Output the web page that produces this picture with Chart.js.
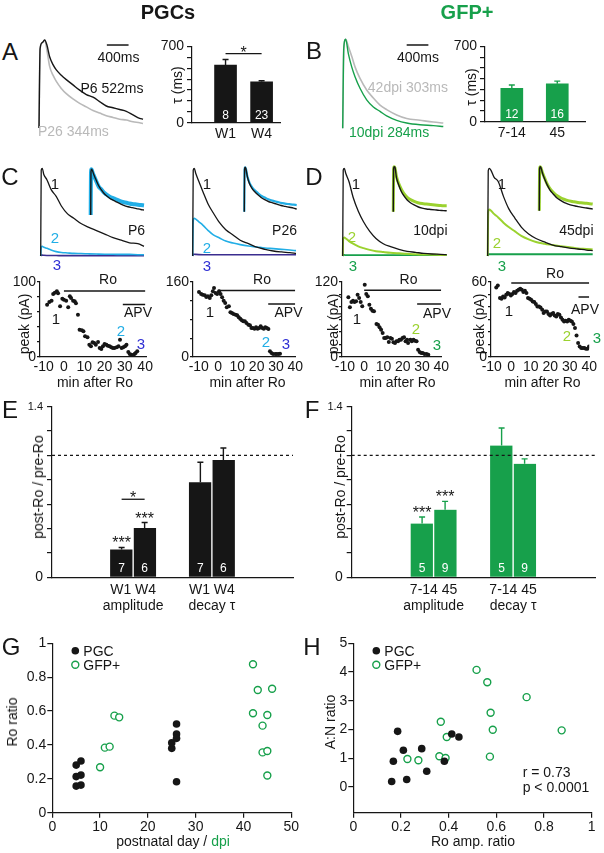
<!DOCTYPE html>
<html>
<head>
<meta charset="utf-8">
<title>PGCs vs GFP+ : Ro sensitivity</title>
<script src="https://cdn.jsdelivr.net/npm/chart.js@4.4.1/dist/chart.umd.min.js"></script>
<style>
  html, body { margin: 0; padding: 0; background: #fff; }
  body { position: relative; width: 604px; height: 853px; overflow: hidden;
         font-family: "Liberation Sans", Arial, Helvetica, sans-serif; color: #111; }
  canvas { position: absolute; }
  .t { position: absolute; white-space: nowrap; line-height: 1; }
</style>
</head>
<body>
<script>
// ---- A / B : normalised EPSC decays (ms, fraction of peak) ----
var tA = [0, 20, 61, 104, 147, 196, 258, 319, 411, 503, 626, 749, 872, 995, 1117, 1240, 1363, 1486, 1609, 1731, 1854, 1916];
var traceP6  = [0, 0.9, 0.97, 1.0, 0.94, 0.81, 0.72, 0.66, 0.60, 0.55, 0.49, 0.43, 0.38, 0.35, 0.30, 0.25, 0.23, 0.21, 0.19, 0.15, 0.11, 0.10];
var traceP26 = [0, 0.9, 0.97, 1.0, 0.88, 0.70, 0.60, 0.53, 0.45, 0.39, 0.33, 0.28, 0.24, 0.20, 0.17, 0.14, 0.12, 0.10, 0.09, 0.07, 0.06, 0.05];
var tB = [0, 20, 55, 104, 166, 227, 319, 442, 565, 688, 810, 995, 1179, 1424, 1670, 1854];
var trace10dpi = [0, 0.9, 1.0, 0.84, 0.69, 0.58, 0.45, 0.32, 0.24, 0.19, 0.14, 0.09, 0.06, 0.04, 0.03, 0.02];
var trace42dpi = [0, 0.9, 1.0, 0.92, 0.81, 0.69, 0.56, 0.43, 0.34, 0.26, 0.21, 0.15, 0.11, 0.09, 0.07, 0.06];

// tau bars
var tauTicks = [0, 100, 200, 300, 400, 500, 600, 700];
var pgcAgeLabels = ['W1', 'W4'];
var pgcTau = [529, 376];
var pgcTauErr = [51, 9];
var pgcTauN = [8, 23];
var gfpAgeLabels = ['7-14', '45'];
var gfpTau = [311, 353];
var gfpTauErr = [30, 24];
var gfpTauN = [12, 16];

// ---- C / D : example traces (arbitrary ms, fraction of control peak) ----
var tCD = [0, 5, 15, 30, 60, 100, 150, 200, 260, 320, 390, 460, 540, 620, 700, 780, 860, 940, 1000];
var c1Trace1 = [0, 0.98, 1.0, 0.93, 0.87, 0.76, 0.68, 0.57, 0.48, 0.43, 0.37, 0.33, 0.29, 0.25, 0.21, 0.18, 0.15, 0.14, 0.11];
var c1Trace2 = [0, 0.10, 0.11, 0.10, 0.087, 0.068, 0.05, 0.04, 0.035, 0.03, 0.028, 0.025, 0.022, 0.02, 0.02, 0.018, 0.018, 0.015, 0.015];
var c1Trace3 = [0, 0.01, 0.01, 0.008, 0.006, 0.005, 0.005, 0.004, 0.004, 0.004, 0.004, 0.004, 0.004, 0.004, 0.004, 0.004, 0.004, 0.004, 0.004];
var c1Inset1 = [0, 0.95, 1.0, 0.98, 0.88, 0.77, 0.64, 0.55, 0.46, 0.40, 0.34, 0.30, 0.255, 0.21, 0.18, 0.16, 0.14, 0.12, 0.11];
var c1Inset2 = [0, 0.9, 1.0, 0.95, 0.86, 0.75, 0.62, 0.56, 0.48, 0.43, 0.38, 0.35, 0.31, 0.28, 0.26, 0.24, 0.23, 0.22, 0.21];
var c2Trace1 = [0, 0.98, 1.0, 0.94, 0.85, 0.73, 0.59, 0.49, 0.38, 0.30, 0.24, 0.18, 0.14, 0.10, 0.076, 0.057, 0.046, 0.038, 0.03];
var c2Trace2 = [0, 0.40, 0.43, 0.42, 0.39, 0.35, 0.29, 0.24, 0.205, 0.17, 0.148, 0.13, 0.114, 0.103, 0.091, 0.084, 0.076, 0.068, 0.061];
var c2Trace3 = [0, 0.02, 0.02, 0.018, 0.016, 0.015, 0.015, 0.015, 0.015, 0.015, 0.015, 0.015, 0.015, 0.015, 0.015, 0.015, 0.015, 0.015, 0.015];
var c2Inset1 = [0, 0.95, 1.0, 0.97, 0.78, 0.63, 0.52, 0.45, 0.38, 0.32, 0.27, 0.23, 0.20, 0.17, 0.14, 0.12, 0.10, 0.08, 0.06];
var c2Inset2 = [0, 0.95, 1.0, 0.97, 0.79, 0.65, 0.55, 0.48, 0.42, 0.36, 0.32, 0.28, 0.25, 0.22, 0.20, 0.18, 0.17, 0.16, 0.15];
var d1Trace1 = [0, 0.98, 1.0, 0.94, 0.85, 0.67, 0.51, 0.39, 0.28, 0.20, 0.14, 0.106, 0.076, 0.053, 0.042, 0.03, 0.023, 0.019, 0.015];
var d1Trace2 = [0, 0.2, 0.21, 0.2, 0.17, 0.14, 0.11, 0.09, 0.07, 0.055, 0.045, 0.036, 0.03, 0.025, 0.02, 0.017, 0.015, 0.012, 0.01];
var d1Trace3 = [0, 0.012, 0.012, 0.01, 0.01, 0.01, 0.01, 0.01, 0.01, 0.01, 0.01, 0.01, 0.01, 0.01, 0.01, 0.01, 0.01, 0.01, 0.01];
var d1Inset1 = [0, 0.95, 1.0, 0.99, 0.75, 0.6, 0.45, 0.35, 0.26, 0.2, 0.15, 0.11, 0.08, 0.06, 0.05, 0.04, 0.03, 0.025, 0.02];
var d1Inset2 = [0, 0.95, 1.0, 0.98, 0.78, 0.63, 0.5, 0.4, 0.32, 0.27, 0.23, 0.2, 0.18, 0.17, 0.16, 0.15, 0.14, 0.13, 0.13];
var d2Trace1 = [0, 0.97, 1.0, 0.98, 0.9, 0.85, 0.68, 0.54, 0.43, 0.33, 0.25, 0.2, 0.16, 0.125, 0.106, 0.091, 0.08, 0.068, 0.061];
var d2Trace2 = [0, 0.5, 0.53, 0.52, 0.48, 0.44, 0.38, 0.33, 0.28, 0.23, 0.19, 0.16, 0.14, 0.125, 0.11, 0.1, 0.085, 0.08, 0.075];
var d2Trace3 = [0, 0.02, 0.02, 0.02, 0.02, 0.02, 0.02, 0.02, 0.02, 0.02, 0.02, 0.02, 0.02, 0.02, 0.02, 0.02, 0.02, 0.02, 0.02];
var d2Inset1 = [0, 0.95, 1.0, 0.98, 0.85, 0.72, 0.58, 0.47, 0.38, 0.30, 0.24, 0.19, 0.15, 0.12, 0.10, 0.08, 0.065, 0.05, 0.04];
var d2Inset2 = [0, 0.95, 1.0, 0.98, 0.86, 0.74, 0.6, 0.5, 0.42, 0.35, 0.3, 0.26, 0.23, 0.21, 0.19, 0.18, 0.17, 0.16, 0.15];

// ---- C / D : peak amplitude rundowns (min after Ro, pA) ----
var minTicks = [-10, 0, 10, 20, 30, 40];
var roSpan = [0, 40];
var c1Min  = [-8.3,-7.2,-6.1,-5.3,-4.5,-3.5,-2.9,-1.9,-0.8,0,1.1,2.1,2.9,3.5,4.5,5.3,5.9,6.9,7.7,8.8,9.6,10.4,11.6,12.5,13.3,14.1,14.9,15.7,16.8,17.6,18.4,19.2,20.0,20.9,21.6,22.5,23.3,24.1,24.9,26.0,26.9,27.6,28.4,29.2,30.1,30.8,31.7,32.4,33.2,34.0,34.8,35.3,36.1];
var c1Peak = [69.8,73.3,75.1,84.0,85.8,87.6,84.9,67.6,77.8,76.4,75.1,66.2,80.9,78.7,75.1,74.2,71.6,56.4,36.4,35.6,34.2,27.6,26.2,16.4,14.2,19.6,18.7,16.4,20.0,12.0,10.7,14.2,17.3,16.4,15.1,14.2,12.9,12.0,12.0,12.9,14.2,23.1,12.0,12.9,14.2,16.4,6.7,4.0,3.1,2.2,4.0,5.3,7.6];
var c2Min  = [-9.9,-8.8,-8.0,-6.9,-6.1,-5.3,-4.3,-3.5,-2.7,-2.1,-1.3,-0.5,0.5,1.3,2.1,2.9,3.7,4.5,5.6,6.4,7.2,8.0,9.1,9.9,10.7,11.5,12.3,13.1,13.9,14.7,15.7,16.5,17.3,18.1,18.9,19.7,20.5,21.3,22.1,22.9,23.7,24.5,25.3,26.1,26.9,27.7,28.5,29.6,30.4,31.3,32.1];
var c2Peak = [138.7,134.4,133,131.6,128,129.4,125.9,131.6,140.1,147.2,136.5,134.4,140.1,134.4,127.3,120.2,115.2,106,108.1,95.3,93.9,91.7,90.3,88.9,84.6,81.8,78.2,76.1,76.1,72.5,69,67.6,61.9,61.9,60.4,63.3,60.4,61.9,65.4,61.9,60.4,63.3,61.9,59.7,12.1,8.5,6.4,6.4,6.4,6.4,7.1];
var d1Min  = [-8.2,-7.4,-6.6,-5.8,-5.0,-4.2,-3.4,-2.6,-1.8,-1.0,0.3,1.1,1.9,2.7,3.5,4.3,5.1,6.4,7.2,8.0,8.8,9.6,10.4,11.2,12.0,12.8,13.6,14.4,15.2,16.0,16.8,17.6,18.3,19.1,19.9,20.7,21.5,22.3,22.8,24.0,24.7,25.6,26.3,27.2,28.0,28.8,29.6,30.4,31.3,32.4,33.3];
var d1Peak = [95.5,79.5,88,90.1,88,89.1,99.7,94.4,88,81.1,115.7,100.8,97.1,83.7,77.3,74.1,73.1,52.8,51.7,47.5,43.7,38.4,30.4,30.4,31.5,24,30.4,29.3,23.5,22.4,25.1,25.1,27.7,27.7,30.4,31.5,25.1,27.7,22.4,27.7,25.1,27.7,26.1,25.1,11.7,8,6.4,6.4,4.8,4.8,3.7];
var d2Min  = [-7.7,-6.9,-5.8,-5.0,-4.2,-3.4,-2.6,-1.8,-1.0,-0.2,0.6,1.4,2.2,3.0,3.8,4.6,5.4,6.2,7.0,7.8,8.6,9.4,10.2,11.0,11.8,12.6,13.4,14.2,15.0,15.9,16.6,17.5,18.3,19.1,19.9,20.7,21.5,22.3,23.1,23.9,24.7,25.5,26.3,27.1,27.9,28.7,29.5,30.3,31.1,31.9,32.7,33.5,34.3,35.1,35.9,36.7,37.5,38.3,39.1,39.9];
var d2Peak = [55.7,57.3,47.2,46.7,48.5,47.7,49.9,51.2,50.4,49.3,50.4,52,51.2,53.1,53.9,54.7,53.9,52,53.1,51.2,47.2,46.7,45.9,44.5,44,42.4,40.5,40.5,39.7,37.9,35.2,36.5,36.5,34.4,33.3,34.4,35.2,33.3,32.5,34.4,33.9,31.7,29.9,28.5,29.1,28.5,29.9,29.1,28.5,26.4,23.2,17.3,11.2,8.5,7.2,7.2,7.2,6.7,6.7,8.5];

// ---- E / F : post-Ro / pre-Ro ----
var ratioTicks = [0, 0.2, 0.4, 0.6, 0.8, 1.0, 1.2, 1.4];
var roGroups = ['amplitude', 'decay τ'];
var pgcRoW1 = [0.229, 0.78];
var pgcRoW1Err = [0.016, 0.164];
var pgcRoW4 = [0.405, 0.963];
var pgcRoW4Err = [0.044, 0.098];
var pgcRoN = [[7, 7], [6, 6]];
var gfpRo714 = [0.441, 1.08];
var gfpRo714Err = [0.054, 0.144];
var gfpRo45 = [0.555, 0.931];
var gfpRo45Err = [0.068, 0.04];
var gfpRoN = [[5, 5], [9, 9]];

// ---- G : Ro ratio vs age ----
var pgcDay   = [5, 6, 5, 6, 5, 6, 25, 25, 26, 26, 26, 26];
var pgcRatio = [0.281, 0.305, 0.213, 0.222, 0.157, 0.163, 0.380, 0.413, 0.524, 0.465, 0.439, 0.183];
var gfpDpi   = [10, 11, 12, 13, 14, 42, 43, 46, 42, 45, 44, 44, 45, 45];
var gfpRatio = [0.268, 0.384, 0.390, 0.573, 0.563, 0.876, 0.724, 0.732, 0.587, 0.577, 0.514, 0.356, 0.364, 0.220];
var dayTicks = [0, 10, 20, 30, 40, 50];
var unitTicks = [0, 0.2, 0.4, 0.6, 0.8, 1];

// ---- H : A:N ratio vs Ro amplitude ratio ----
var pgcAmp = [0.161, 0.168, 0.186, 0.210, 0.224, 0.287, 0.308, 0.382, 0.413, 0.443];
var pgcAN  = [0.185, 0.891, 1.933, 1.273, 0.255, 1.331, 0.544, 0.891, 1.840, 1.736];
var gfpAmp = [0.227, 0.273, 0.361, 0.367, 0.387, 0.392, 0.517, 0.562, 0.576, 0.585, 0.573, 0.727, 0.874];
var gfpAN  = [0.972, 0.926, 1.065, 2.269, 1.007, 1.736, 4.074, 3.646, 2.581, 1.991, 1.053, 3.125, 1.968];
var anTicks = [0, 1, 2, 3, 4, 5];

// colours
var BLACK = '#161616', GRAY = '#b9b9b9', CYAN = '#22aee6', INDIGO = '#3b2d8f', BLUE = '#2f2fd4';
var LIME = '#9bd22f', GREEN = '#17a04b';
var FONT = '"Liberation Sans", Arial, Helvetica, sans-serif';

Chart.defaults.font.family = FONT;
Chart.defaults.font.size = 14;
Chart.defaults.color = BLACK;

function pts(xs, ys) { return xs.map(function(x, i) { return { x: x, y: ys[i] }; }); }
function fixTicks(arr) { return function(s) { s.ticks = arr.map(function(v) { return { value: v }; }); }; }
function num(v) { return String(+(+v).toFixed(2)); }

// draws error bars, n, stars, significance lines, dashed reference, scale bar, legend
function extrasPlugin(o) {
  return {
    id: 'extras',
    afterDatasetsDraw: function(chart) {
      var ctx = chart.ctx, xs = chart.scales.x, ys = chart.scales.y, a = chart.chartArea;
      ctx.save();
      ctx.textAlign = 'center';
      if (o.refLine != null) {
        var yr = ys.getPixelForValue(o.refLine);
        ctx.setLineDash([3, 3]); ctx.strokeStyle = BLACK; ctx.lineWidth = 1.3;
        ctx.beginPath(); ctx.moveTo(a.left, yr); ctx.lineTo(a.right, yr); ctx.stroke();
        ctx.setLineDash([]);
      }
      chart.data.datasets.forEach(function(ds, di) {
        var els = chart.getDatasetMeta(di).data;
        els.forEach(function(el, i) {
          var top = el.y;
          if (ds.errors) {
            top = ys.getPixelForValue(ds.data[i].y + ds.errors[i]);
            ctx.strokeStyle = ds.errColor; ctx.lineWidth = 1.4;
            ctx.beginPath(); ctx.moveTo(el.x, el.y); ctx.lineTo(el.x, top);
            ctx.moveTo(el.x - 3, top); ctx.lineTo(el.x + 3, top); ctx.stroke();
          }
          if (ds.counts) {
            ctx.fillStyle = '#fff'; ctx.font = '12px ' + FONT; ctx.textBaseline = 'middle';
            ctx.fillText(String(ds.counts[i]), el.x, el.base - (o.countOff || 7));
          }
          if (ds.stars && ds.stars[i]) {
            ctx.fillStyle = BLACK; ctx.font = '16px ' + FONT; ctx.textBaseline = 'alphabetic';
            ctx.fillText(ds.stars[i], el.x, top + 1);
          }
        });
      });
      if (o.sig) {
        var e1 = chart.getDatasetMeta(o.sig.a[0]).data[o.sig.a[1]];
        var e2 = chart.getDatasetMeta(o.sig.b[0]).data[o.sig.b[1]];
        var ysig = ys.getPixelForValue(o.sig.y);
        ctx.strokeStyle = BLACK; ctx.lineWidth = 1.3;
        ctx.beginPath(); ctx.moveTo(e1.x, ysig); ctx.lineTo(e2.x, ysig); ctx.stroke();
        ctx.fillStyle = BLACK; ctx.font = '16px ' + FONT; ctx.textBaseline = 'alphabetic';
        ctx.fillText(o.sig.text, (e1.x + e2.x) / 2, ysig + 4);
      }
      if (o.scaleBar) {
        var sb = o.scaleBar, yb = ys.getPixelForValue(sb.y);
        ctx.strokeStyle = BLACK; ctx.lineWidth = 1.5;
        ctx.beginPath(); ctx.moveTo(xs.getPixelForValue(sb.x0), yb);
        ctx.lineTo(xs.getPixelForValue(sb.x0 + sb.len), yb); ctx.stroke();
      }
      if (o.legend) {
        ctx.textAlign = 'left'; ctx.textBaseline = 'middle'; ctx.font = '14px ' + FONT;
        chart.data.datasets.forEach(function(ds, di) {
          var cx = a.left + o.legend.dx, cy = a.top + o.legend.dy + di * o.legend.gap;
          ctx.beginPath(); ctx.arc(cx, cy, ds.pointRadius, 0, Math.PI * 2);
          ctx.fillStyle = ds.backgroundColor; ctx.fill();
          if (ds.borderWidth) { ctx.strokeStyle = ds.borderColor; ctx.lineWidth = ds.borderWidth; ctx.stroke(); }
          ctx.fillStyle = BLACK; ctx.fillText(ds.label, cx + 8, cy + 1);
        });
      }
      ctx.restore();
    }
  };
}

// put a chart on the page so that its plot area lands on area = [left, top, right, bottom]
function place(L, T, W, H, area, cfg, extra) {
  L = Math.round(L); T = Math.round(T); W = Math.round(W); H = Math.round(H);
  var c = document.createElement('canvas');
  c.width = W; c.height = H;
  c.style.left = L + 'px'; c.style.top = T + 'px';
  c.style.width = W + 'px'; c.style.height = H + 'px';
  document.body.appendChild(c);
  var sc = cfg.options.scales;
  var showY = sc.y.display !== false, showX = sc.x.display !== false;
  cfg.options.layout = { autoPadding: false, padding: {
    left: showY ? 0 : area[0] - L, top: area[1] - T,
    right: L + W - area[2], bottom: showX ? 0 : T + H - area[3] } };
  if (showY) sc.y.afterFit = function(s) { s.width = area[0] - L; };
  if (showX) sc.x.afterFit = function(s) { s.height = T + H - area[3]; };
  cfg.options.responsive = false;
  cfg.options.animation = false;
  cfg.options.devicePixelRatio = 1;
  cfg.options.plugins = { legend: { display: false }, tooltip: { enabled: false } };
  cfg.plugins = [extrasPlugin(extra || {})];
  return new Chart(c, cfg);
}

function axisY(min, max, ticks, cb, tickLen, pad, font) {
  var y = { min: min, max: max, afterBuildTicks: fixTicks(ticks),
    ticks: { padding: pad, callback: cb, autoSkip: false },
    grid: { drawOnChartArea: false, drawTicks: true, tickLength: tickLen, color: BLACK, lineWidth: 1.2 },
    border: { color: BLACK, width: 1.2 } };
  if (font) y.ticks.font = font;
  return y;
}

function traces(area, tArr, xMax, series, extra) {
  var m = 4;
  return place(area[0] - m, area[1] - m, area[2] - area[0] + 2 * m, area[3] - area[1] + 2 * m, area, {
    type: 'line',
    data: { datasets: series.map(function(s) {
      return { data: pts(tArr, s[0]), borderColor: s[1], borderWidth: s[2] || 1.3,
               pointRadius: 0, cubicInterpolationMode: 'monotone', clip: false };
    }) },
    options: { scales: {
      x: { type: 'linear', display: false, min: 0, max: xMax },
      y: { display: false, min: 0, max: 1 } } }
  }, extra);
}

function tauBars(L, T, W, H, area, xr, labels, vals, errs, ns, color, sig) {
  return place(L, T, W, H, area, {
    type: 'bar',
    data: { datasets: [{ data: vals.map(function(v, i) { return { x: i + 1, y: v }; }),
      backgroundColor: color, borderWidth: 0, barThickness: 22,
      errors: errs, errColor: color, counts: ns }] },
    options: { scales: {
      x: { type: 'linear', offset: false, min: xr[0], max: xr[1],
           afterBuildTicks: fixTicks(labels.map(function(l, i) { return i + 1; })),
           ticks: { padding: 3, maxRotation: 0, autoSkip: false, callback: function(v) { return labels[v - 1]; } },
           grid: { display: false, drawTicks: false }, border: { color: BLACK, width: 1.2 } },
      y: axisY(0, 700, tauTicks, function(v) { return (v === 0 || v === 700) ? String(v) : ''; }, 5, 3)
    } }
  }, { sig: sig, countOff: 6 });
}

function roBars(L, T, W, H, area, ageLabel, sets, errs, ns, stars, color, sig) {
  return place(L, T, W, H, area, {
    type: 'bar',
    data: { datasets: sets.map(function(vals, k) {
      return { data: vals.map(function(v, i) { return { x: i + 1, y: v }; }),
        backgroundColor: color, borderColor: '#fff',
        borderWidth: k === 0 ? { right: 1, left: 0, top: 0, bottom: 0 } : { left: 1, right: 0, top: 0, bottom: 0 },
        borderSkipped: false, barThickness: 23,
        errors: errs[k], errColor: color, counts: ns[k], stars: stars[k] };
    }) },
    options: { scales: {
      x: { type: 'linear', offset: false, min: -0.03, max: 3.03,
           afterBuildTicks: fixTicks([1, 2]),
           ticks: { padding: 4, maxRotation: 0, autoSkip: false,
                    callback: function(v) { return [ageLabel, roGroups[v - 1]]; } },
           grid: { display: false, drawTicks: false }, border: { color: BLACK, width: 1.2 } },
      y: axisY(0, 1.4, ratioTicks, function(v) {
            if (v === 0) return '0';
            return Math.abs(v - 1.4) < 1e-6 ? '1.4' : '';
          }, 5, 4, function(c) { return { size: (c.tick && c.tick.value > 1) ? 11 : 14 }; })
    } }
  }, { refLine: 1, sig: sig, countOff: 8 });
}

function rundown(L, T, W, H, area, xMin, xMax, xs, ys, yTicks, roLevel, apvFrom, apvLevel) {
  var yMax = yTicks[yTicks.length - 1];
  return place(L, T, W, H, area, {
    type: 'scatter',
    data: { datasets: [
      { data: pts(xs, ys), pointRadius: 2, backgroundColor: BLACK, borderWidth: 0 },
      { data: [{ x: roSpan[0], y: roLevel }, { x: roSpan[1], y: roLevel }], showLine: true,
        borderColor: BLACK, borderWidth: 1.4, pointRadius: 0 },
      { data: [{ x: apvFrom, y: apvLevel }, { x: roSpan[1], y: apvLevel }], showLine: true,
        borderColor: BLACK, borderWidth: 1.4, pointRadius: 0 }
    ] },
    options: { scales: {
      x: { type: 'linear', min: xMin, max: xMax, afterBuildTicks: fixTicks(minTicks),
           ticks: { padding: 2, maxRotation: 0, autoSkip: false, callback: num },
           grid: { display: false, drawTicks: false }, border: { color: BLACK, width: 1.2 } },
      y: axisY(0, yMax, yTicks, function(v) { return (v === 0 || v === yMax) ? String(v) : ''; }, 3, 1)
    } }
  });
}

function scatterPanel(L, T, W, H, area, xr, xTicks, yr, yTicks, sets) {
  return place(L, T, W, H, area, {
    type: 'scatter',
    data: { datasets: [
      { label: 'PGC', data: sets[0], pointRadius: 3.8, backgroundColor: BLACK, borderColor: BLACK, borderWidth: 0 },
      { label: 'GFP+', data: sets[1], pointRadius: 3.5, backgroundColor: '#fff', borderColor: GREEN, borderWidth: 1.4 }
    ] },
    options: { scales: {
      x: { type: 'linear', min: xr[0], max: xr[1], afterBuildTicks: fixTicks(xTicks),
           ticks: { padding: 1, maxRotation: 0, autoSkip: false, callback: num },
           grid: { drawOnChartArea: false, tickLength: 5, color: BLACK, lineWidth: 1.2 },
           border: { color: BLACK, width: 1.2 } },
      y: axisY(yr[0], yr[1], yTicks, num, 5, 1)
    } }
  }, { legend: { dx: 23, dy: 7.5, gap: 14 } });
}

function txt(s, x, y, o) {
  o = o || {};
  var d = document.createElement('div');
  d.className = 't';
  d.innerHTML = s;
  var tr = o.rot ? 'translate(-50%,-50%) rotate(-90deg)'
         : o.al === 'l' ? 'translate(0,-50%)'
         : o.al === 'r' ? 'translate(-100%,-50%)' : 'translate(-50%,-50%)';
  d.style.left = x + 'px'; d.style.top = y + 'px';
  d.style.transform = tr;
  d.style.fontSize = (o.size || 14) + 'px';
  d.style.color = o.c || BLACK;
  if (o.b) d.style.fontWeight = 'bold';
  document.body.appendChild(d);
}

// ---------- A / B ----------
traces([39, 40, 143, 128], tA, 1916, [[traceP6, BLACK, 1.4], [traceP26, GRAY, 1.6]],
       { scaleBar: { x0: 1250, len: 400, y: 0.943 } });
traces([342.7, 39.3, 443.3, 128.3], tB, 1854, [[trace10dpi, GREEN, 1.4], [trace42dpi, GRAY, 1.6]],
       { scaleBar: { x0: 1179, len: 400, y: 0.936 } });
tauBars(140, 35, 148, 110, [192, 45, 280, 122.7], [0.07, 2.51], pgcAgeLabels, pgcTau, pgcTauErr, pgcTauN, BLACK,
        { a: [0, 0], b: [0, 1], y: 634, text: '*' });
tauBars(440, 35, 155, 110, [485, 44.3, 585, 121.7], [0.41, 2.61], gfpAgeLabels, gfpTau, gfpTauErr, gfpTauN, GREEN, null);

// ---------- C / D traces ----------
traces([40.7, 168.3, 144, 256], tCD, 1000, [[c1Trace1, BLACK], [c1Trace2, CYAN, 1.6], [c1Trace3, INDIGO, 1.6]]);
traces([90.7, 169.3, 144, 215], tCD, 1000, [[c1Inset1, BLACK, 1.4], [c1Inset2, CYAN, 4]]);
traces([192.7, 168.3, 296, 256], tCD, 1000, [[c2Trace1, BLACK], [c2Trace2, CYAN, 1.6], [c2Trace3, INDIGO, 1.6]]);
traces([244.3, 167.3, 296.7, 211.7], tCD, 1000, [[c2Inset1, BLACK, 1.4], [c2Inset2, CYAN, 2.2]]);
traces([342.7, 168.3, 446.7, 256], tCD, 1000, [[d1Trace1, BLACK], [d1Trace2, LIME, 2], [d1Trace3, GREEN, 1.8]]);
traces([393.3, 166.7, 446.7, 211.7], tCD, 1000, [[d1Inset1, BLACK, 1.4], [d1Inset2, LIME, 3]]);
traces([487.7, 168.3, 592.7, 256], tCD, 1000, [[d2Trace1, BLACK], [d2Trace2, LIME, 2], [d2Trace3, GREEN, 2]]);
traces([539.3, 166.7, 592.7, 210.7], tCD, 1000, [[d2Inset1, BLACK, 1.4], [d2Inset2, LIME, 3]]);

// ---------- C / D rundowns ----------
rundown(0, 270, 155, 110, [40, 282, 149, 357], -11.8, 40.6, c1Min, c1Peak, [0, 20, 40, 60, 80, 100], 88, 29, 70);
rundown(153, 270, 152, 110, [193, 282, 303, 357], -13, 40, c2Min, c2Peak, [0, 40, 80, 120, 160], 142, 26, 113);
rundown(300, 270, 151, 110, [342, 282, 449, 357], -11.5, 40, d1Min, d1Peak, [0, 20, 40, 60, 80, 100, 120], 106.7, 27.5, 84.8);
rundown(449, 270, 150, 110, [491, 282, 596, 357], -10.4, 40, d2Min, d2Peak, [0, 10, 20, 30, 40, 50, 60], 59.2, 34.5, 48);

// ---------- E / F ----------
roBars(0, 396, 300, 225, [52, 406, 293, 577.3], pgcAgeLabels.join(' '), [pgcRoW1, pgcRoW4],
       [pgcRoW1Err, pgcRoW4Err], pgcRoN, [['***', ''], ['***', '']], BLACK,
       { a: [0, 0], b: [1, 0], y: 0.64, text: '*' });
roBars(300, 396, 304, 225, [351.7, 406, 595, 577.3], gfpAgeLabels.join(' '), [gfpRo714, gfpRo45],
       [gfpRo714Err, gfpRo45Err], gfpRoN, [['***', ''], ['***', '']], GREEN, null);

// ---------- G / H ----------
scatterPanel(0, 633, 300, 220, [52.3, 643.3, 291.7, 812.7], [0, 50], dayTicks, [0, 1], unitTicks,
             [pts(pgcDay, pgcRatio), pts(gfpDpi, gfpRatio)]);
scatterPanel(300, 633, 304, 220, [353.3, 643.3, 591.7, 812.7], [0, 1], unitTicks, [-0.9, 5], anTicks,
             [pts(pgcAmp, pgcAN), pts(gfpAmp, gfpAN)]);

// ---------- text ----------
txt('PGCs', 168, 12, { size: 20, b: 1 });
txt('GFP+', 467, 12, { size: 20, b: 1, c: GREEN });
[['A', 10, 52], ['B', 314, 51], ['C', 10, 177], ['D', 314, 177],
 ['E', 10, 410], ['F', 312, 410], ['G', 11, 647], ['H', 312, 647]].forEach(function(p) {
  txt(p[0], p[1], p[2], { size: 24 });
});

txt('400ms', 118.5, 57); txt('400ms', 418, 57);
txt('P6 522ms', 143.5, 88, { al: 'r' });
txt('P26 344ms', 38, 131, { al: 'l', c: GRAY });
txt('42dpi 303ms', 448, 87, { al: 'r', c: GRAY });
txt('10dpi 284ms', 349, 132, { al: 'l', c: GREEN });
txt('τ (ms)', 177, 85, { rot: 1 }); txt('τ (ms)', 471, 87, { rot: 1 });

txt('1', 55, 183, { size: 15 }); txt('2', 55, 237, { size: 15, c: CYAN }); txt('3', 57, 264, { size: 15, c: BLUE });
txt('P6', 145, 230, { al: 'r' });
txt('1', 207, 183, { size: 15 }); txt('2', 207, 247, { size: 15, c: CYAN }); txt('3', 207, 265, { size: 15, c: BLUE });
txt('P26', 297, 230, { al: 'r' });
txt('1', 356, 183, { size: 15 }); txt('2', 352, 236, { size: 15, c: LIME }); txt('3', 353, 265, { size: 15, c: GREEN });
txt('10dpi', 447.5, 230, { al: 'r' });
txt('1', 502, 183, { size: 15 }); txt('2', 497, 242, { size: 15, c: LIME }); txt('3', 502, 265, { size: 15, c: GREEN });
txt('45dpi', 593.5, 230, { al: 'r' });

txt('Ro', 108, 279); txt('Ro', 262, 279); txt('Ro', 408.5, 279); txt('Ro', 555, 273);
txt('APV', 138, 312); txt('APV', 288.5, 312); txt('APV', 437, 313); txt('APV', 585, 309);
txt('1', 56, 318, { size: 15 }); txt('2', 121, 330, { size: 15, c: CYAN }); txt('3', 141, 343, { size: 15, c: BLUE });
txt('1', 210, 311, { size: 15 }); txt('2', 266, 341, { size: 15, c: CYAN }); txt('3', 286, 343, { size: 15, c: BLUE });
txt('1', 357, 318, { size: 15 }); txt('2', 416, 328, { size: 15, c: LIME }); txt('3', 437, 344, { size: 15, c: GREEN });
txt('1', 509, 310, { size: 15 }); txt('2', 567, 335, { size: 15, c: LIME }); txt('3', 597, 337, { size: 15, c: GREEN });
txt('peak (pA)', 24, 324, { rot: 1 }); txt('peak (pA)', 333, 324, { rot: 1 }); txt('peak (pA)', 479, 324, { rot: 1 });
txt('min after Ro', 95, 382); txt('min after Ro', 247.5, 382); txt('min after Ro', 397.5, 382); txt('min after Ro', 542.5, 382);

txt('post-Ro / pre-Ro', 38, 487, { rot: 1 }); txt('post-Ro / pre-Ro', 340, 487, { rot: 1 });

txt('Ro ratio', 12, 722, { rot: 1 });
txt('postnatal day / <span style="color:' + GREEN + '">dpi</span>', 173, 841);
txt('A:N ratio', 330, 722, { rot: 1 });
txt('Ro amp. ratio', 473, 841);
txt('r = 0.73', 522.7, 772, { al: 'l' });
txt('p &lt; 0.0001', 522.7, 787, { al: 'l' });
</script>
</body>
</html>
